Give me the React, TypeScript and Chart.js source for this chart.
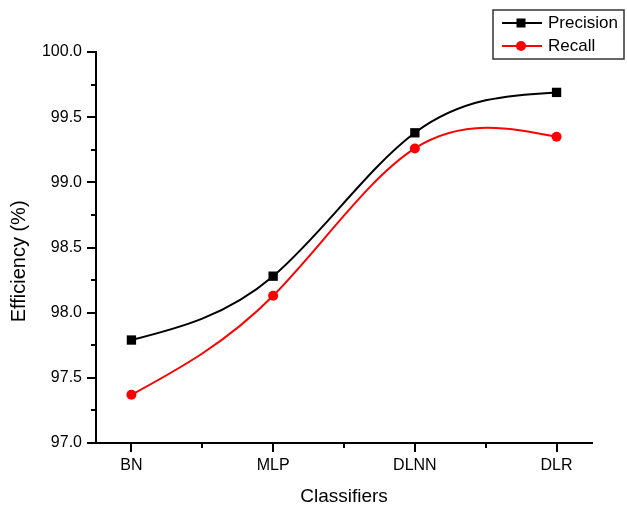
import React, { useEffect, useRef } from "react";
import { Chart, registerables } from "chart.js";

Chart.register(...registerables);

const categories = ["BN", "MLP", "DLNN", "DLR"];
const precisionValues = [97.79, 98.28, 99.38, 99.69];
const recallValues = [97.37, 98.13, 99.26, 99.35];
const yMajorTicks = [97.0, 97.5, 98.0, 98.5, 99.0, 99.5, 100.0];
const yMinorTicks = [97.25, 97.75, 98.25, 98.75, 99.25, 99.75];
const xMinorTicks = [0.5, 1.5, 2.5];
const seriesNames = ["Precision", "Recall"];

const FONT = "'Liberation Sans', Arial, Helvetica, sans-serif";

// Natural cubic spline control points (Origin-like smoothing), computed from pixel positions given by the scales
const splinePlugin = {
  id: "naturalSpline",
  beforeDatasetDraw(chart: any, args: any) {
    const meta = args.meta;
    const line = meta.dataset;
    if (!line) return;
    line.updateControlPoints(chart.chartArea, "x");
    const pts = meta.data;
    const n = pts.length;
    if (n < 3) return;
    const xs = pts.map((p: any) => p.x);
    const ys = pts.map((p: any) => p.y);
    const h: number[] = [];
    for (let i = 0; i < n - 1; i++) h.push(xs[i + 1] - xs[i]);
    const a: number[] = new Array(n).fill(0);
    const b: number[] = new Array(n).fill(1);
    const c: number[] = new Array(n).fill(0);
    const d: number[] = new Array(n).fill(0);
    for (let i = 1; i < n - 1; i++) {
      a[i] = h[i - 1];
      b[i] = 2 * (h[i - 1] + h[i]);
      c[i] = h[i];
      d[i] = 6 * ((ys[i + 1] - ys[i]) / h[i] - (ys[i] - ys[i - 1]) / h[i - 1]);
    }
    const cp: number[] = new Array(n).fill(0);
    const dp: number[] = new Array(n).fill(0);
    cp[0] = c[0] / b[0];
    dp[0] = d[0] / b[0];
    for (let i = 1; i < n; i++) {
      const m = b[i] - a[i] * cp[i - 1];
      cp[i] = c[i] / m;
      dp[i] = (d[i] - a[i] * dp[i - 1]) / m;
    }
    const M: number[] = new Array(n).fill(0);
    M[n - 1] = dp[n - 1];
    for (let i = n - 2; i >= 0; i--) M[i] = dp[i] - cp[i] * M[i + 1];
    const slope: number[] = [];
    for (let i = 0; i < n; i++) {
      if (i < n - 1) {
        slope.push((ys[i + 1] - ys[i]) / h[i] - (h[i] * (2 * M[i] + M[i + 1])) / 6);
      } else {
        slope.push((ys[i] - ys[i - 1]) / h[i - 1] + (h[i - 1] * (2 * M[i] + M[i - 1])) / 6);
      }
    }
    for (let i = 0; i < n; i++) {
      const p = pts[i];
      const hp = i > 0 ? h[i - 1] : h[0];
      const hn = i < n - 1 ? h[i] : h[n - 2];
      p.cp1x = xs[i] - hp / 3;
      p.cp1y = ys[i] - (slope[i] * hp) / 3;
      p.cp2x = xs[i] + hn / 3;
      p.cp2y = ys[i] + (slope[i] * hn) / 3;
    }
    line._path = undefined;
  },
};

// Outward major / minor tick marks
const ticksPlugin = {
  id: "outerTicks",
  afterDraw(chart: any) {
    const { ctx, scales } = chart;
    const xs = scales.x;
    const ys = scales.y;
    const left = chart.chartArea.left;
    const bottom = chart.chartArea.bottom;
    ctx.save();
    ctx.strokeStyle = "#000";
    ctx.lineWidth = 2;
    ctx.beginPath();
    yMajorTicks.forEach((v) => {
      const y = Math.round(ys.getPixelForValue(v));
      ctx.moveTo(left - 9, y);
      ctx.lineTo(left, y);
    });
    yMinorTicks.forEach((v) => {
      const y = Math.round(ys.getPixelForValue(v));
      ctx.moveTo(left - 5, y);
      ctx.lineTo(left, y);
    });
    categories.forEach((_, i) => {
      const x = Math.round(xs.getPixelForValue(i));
      ctx.moveTo(x, bottom);
      ctx.lineTo(x, bottom + 9);
    });
    xMinorTicks.forEach((v) => {
      const x = Math.round(xs.getPixelForValue(v));
      ctx.moveTo(x, bottom);
      ctx.lineTo(x, bottom + 5);
    });
    ctx.stroke();
    ctx.restore();
  },
};

// Boxed legend in the style of the original
const legendPlugin = {
  id: "boxLegend",
  afterDraw(chart: any) {
    const { ctx } = chart;
    ctx.save();
    const bx = 493, by = 10, bw = 131, bh = 49;
    ctx.fillStyle = "#fff";
    ctx.fillRect(bx, by, bw, bh);
    ctx.strokeStyle = "#333";
    ctx.lineWidth = 1.5;
    ctx.strokeRect(bx, by, bw, bh);
    const rows = [23, 46];
    chart.data.datasets.forEach((ds: any, i: number) => {
      const y = rows[i];
      ctx.strokeStyle = ds.borderColor;
      ctx.lineWidth = 2;
      ctx.beginPath();
      ctx.moveTo(502, y);
      ctx.lineTo(542, y);
      ctx.stroke();
      ctx.fillStyle = ds.backgroundColor;
      if (ds.pointStyle === "rect") {
        ctx.fillRect(521 - 4.5, y - 4.5, 9, 9);
      } else {
        ctx.beginPath();
        ctx.arc(521, y, 5, 0, Math.PI * 2);
        ctx.fill();
      }
      ctx.fillStyle = "#000";
      ctx.font = `17px ${FONT}`;
      ctx.textBaseline = "middle";
      ctx.textAlign = "left";
      ctx.fillText(ds.label, 548, y);
    });
    ctx.restore();
  },
};

export default function App() {
  const ref = useRef<HTMLCanvasElement | null>(null);

  useEffect(() => {
    document.body.style.margin = "0";
    const canvas = ref.current;
    if (!canvas) return;
    const chart = new Chart(canvas, {
      type: "line",
      data: {
        datasets: [
          {
            label: seriesNames[0],
            data: precisionValues.map((v, i) => ({ x: i, y: v })),
            borderColor: "#000000",
            backgroundColor: "#000000",
            borderWidth: 2,
            pointStyle: "rect",
            pointRadius: 6.6,
            pointBorderWidth: 0,
            tension: 0.4,
          },
          {
            label: seriesNames[1],
            data: recallValues.map((v, i) => ({ x: i, y: v })),
            borderColor: "#ff0000",
            backgroundColor: "#ff0000",
            borderWidth: 2,
            pointStyle: "circle",
            pointRadius: 5,
            pointBorderWidth: 0,
            tension: 0.4,
          },
        ],
      },
      options: {
        animation: false,
        responsive: false,
        maintainAspectRatio: false,
        events: [],
        layout: { padding: { top: 52, right: 35, bottom: 0, left: 0 } },
        plugins: {
          legend: { display: false },
          tooltip: { enabled: false },
        },
        scales: {
          x: {
            type: "linear",
            min: -0.25,
            max: 3.25,
            afterFit: (s: any) => {
              s.height = 62;
            },
            afterBuildTicks: (s: any) => {
              s.ticks = categories.map((_, i) => ({ value: i }));
            },
            grid: { display: false, drawTicks: false },
            border: { display: true, color: "#000", width: 2 },
            ticks: {
              padding: 13,
              color: "#000",
              font: { family: FONT, size: 16 },
              maxRotation: 0,
              autoSkip: false,
              callback: (v: any) => categories[Math.round(Number(v))] ?? "",
            },
            title: {
              display: true,
              text: "Classifiers",
              color: "#000",
              font: { family: FONT, size: 19 },
              padding: { top: 0, bottom: -3 },
            },
          },
          y: {
            type: "linear",
            min: 97.0,
            max: 100.0,
            afterFit: (s: any) => {
              s.width = 96;
            },
            afterBuildTicks: (s: any) => {
              s.ticks = yMajorTicks.map((v) => ({ value: v }));
            },
            grid: { display: false, drawTicks: false },
            border: { display: true, color: "#000", width: 2 },
            ticks: {
              padding: 14,
              color: "#000",
              font: { family: FONT, size: 16 },
              callback: (v: any) => Number(v).toFixed(1),
            },
            title: {
              display: true,
              text: "Efficiency (%)\u00a0\u00a0\u00a0\u00a0\u00a0",
              color: "#000",
              font: { family: FONT, size: 20 },
              padding: { top: 7, bottom: 0 },
            },
          },
        },
      },
      plugins: [splinePlugin, ticksPlugin, legendPlugin],
    } as any);
    return () => chart.destroy();
  }, []);

  return (
    <div style={{ position: "absolute", left: 0, top: 0, width: 627, height: 505, background: "#fff" }}>
      <canvas ref={ref} width={627} height={505} style={{ width: 627, height: 505, display: "block" }} />
    </div>
  );
}
